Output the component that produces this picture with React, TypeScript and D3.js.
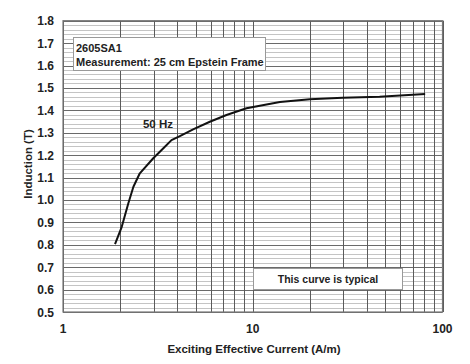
import React, { useRef, useEffect } from "react";
import * as d3 from "d3";

// B-H curve (A/m, T)
const current = [1.88, 2.04, 2.21, 2.35, 2.54, 2.99, 3.37, 3.73, 4.13, 4.85, 5.94, 7.27, 9.27, 13.9, 20, 29.8, 46.6, 81];
const induction = [0.803, 0.88, 0.985, 1.059, 1.119, 1.186, 1.23, 1.267, 1.285, 1.315, 1.349, 1.379, 1.409, 1.437, 1.449, 1.456, 1.461, 1.473];
const yTicks = [0.5, 0.6, 0.7, 0.8, 0.9, 1.0, 1.1, 1.2, 1.3, 1.4, 1.5, 1.6, 1.7, 1.8];
const xTicks = [1, 10, 100];

const W = 470;
const H = 364;
const FONT = "Arial, 'Liberation Sans', sans-serif";

function App() {
  const SVG = useRef<SVGSVGElement>(null);

  useEffect(() => {
    const svg = d3.select(SVG.current);
    svg.selectAll("*").remove();

    const x = d3.scaleLog().domain([1, 100]).range([63, 442.5]);
    const y = d3.scaleLinear().domain([0.5, 1.8]).range([312, 20.7]);

    const g = svg.append("g");

    // minor horizontal grid
    const minor = d3.range(0.52, 1.8, 0.02).filter(v => Math.abs(v * 10 - Math.round(v * 10)) > 0.01);
    g.selectAll("line.minor")
      .data(minor)
      .enter()
      .append("line")
      .attr("x1", x(1))
      .attr("x2", x(100))
      .attr("y1", d => Math.round(y(d)) + 0.5)
      .attr("y2", d => Math.round(y(d)) + 0.5)
      .attr("stroke", "#c4c4c4")
      .attr("stroke-width", 1);

    // major horizontal grid
    g.selectAll("line.major")
      .data(yTicks)
      .enter()
      .append("line")
      .attr("x1", x(1))
      .attr("x2", x(100))
      .attr("y1", d => Math.round(y(d)) + 0.5)
      .attr("y2", d => Math.round(y(d)) + 0.5)
      .attr("stroke", "#6a6a6a")
      .attr("stroke-width", 1);

    // vertical grid
    const vlines = d3.range(1, 10).flatMap(k => [k, k * 10]).concat([100]);
    g.selectAll("line.v")
      .data(vlines)
      .enter()
      .append("line")
      .attr("x1", d => Math.round(x(d)) + 0.5)
      .attr("x2", d => Math.round(x(d)) + 0.5)
      .attr("y1", y(1.8))
      .attr("y2", y(0.5))
      .attr("stroke", "#5a5a5a")
      .attr("stroke-width", 1);

    // frame
    g.append("rect")
      .attr("x", x(1))
      .attr("y", y(1.8))
      .attr("width", x(100) - x(1))
      .attr("height", y(0.5) - y(1.8))
      .attr("fill", "none")
      .attr("stroke", "#777")
      .attr("stroke-width", 1.2);

    // y tick labels
    g.selectAll("text.yt")
      .data(yTicks)
      .enter()
      .append("text")
      .attr("x", 54)
      .attr("y", d => y(d) + 4.5)
      .attr("text-anchor", "end")
      .attr("font-family", FONT)
      .attr("font-weight", "bold")
      .attr("font-size", 12)
      .attr("fill", "#222")
      .text(d => d.toFixed(1));

    // x tick labels
    g.selectAll("text.xt")
      .data(xTicks)
      .enter()
      .append("text")
      .attr("x", d => x(d))
      .attr("y", 333)
      .attr("text-anchor", "middle")
      .attr("font-family", FONT)
      .attr("font-weight", "bold")
      .attr("font-size", 12)
      .attr("fill", "#222")
      .text(d => String(d));

    // axis titles
    g.append("text")
      .attr("x", 254)
      .attr("y", 353)
      .attr("text-anchor", "middle")
      .attr("font-family", FONT)
      .attr("font-weight", "bold")
      .attr("font-size", 11.5)
      .attr("fill", "#222")
      .text("Exciting Effective Current (A/m)");

    g.append("text")
      .attr("transform", "translate(32,164) rotate(-90)")
      .attr("text-anchor", "middle")
      .attr("font-family", FONT)
      .attr("font-weight", "bold")
      .attr("font-size", 11.5)
      .attr("fill", "#222")
      .text("Induction (T)");

    // curve
    const pts: [number, number][] = current.map((c, i) => [c, induction[i]]);
    g.append("path")
      .datum(pts)
      .attr("fill", "none")
      .attr("stroke", "#111")
      .attr("stroke-width", 2)
      .attr("stroke-linejoin", "round")
      .attr("d", d3.line<[number, number]>().x(d => x(d[0])).y(d => y(d[1])));

    g.append("text")
      .attr("x", 158)
      .attr("y", 128)
      .attr("text-anchor", "middle")
      .attr("font-family", FONT)
      .attr("font-weight", "bold")
      .attr("font-size", 11.5)
      .attr("fill", "#222")
      .text("50 Hz");

    // info box
    g.append("rect")
      .attr("x", 73.5)
      .attr("y", 37.5)
      .attr("width", 192)
      .attr("height", 33)
      .attr("fill", "#fff")
      .attr("stroke", "#999");
    g.append("text")
      .attr("x", 76)
      .attr("y", 52)
      .attr("font-family", FONT)
      .attr("font-weight", "bold")
      .attr("font-size", 11)
      .attr("fill", "#222")
      .text("2605SA1");
    g.append("text")
      .attr("x", 76)
      .attr("y", 66)
      .attr("font-family", FONT)
      .attr("font-weight", "bold")
      .attr("font-size", 11)
      .attr("fill", "#222")
      .text("Measurement: 25 cm Epstein Frame");

    // typical box
    g.append("rect")
      .attr("x", 253.5)
      .attr("y", 268.5)
      .attr("width", 149)
      .attr("height", 21)
      .attr("fill", "#fff")
      .attr("stroke", "#999");
    g.append("text")
      .attr("x", 328)
      .attr("y", 283)
      .attr("text-anchor", "middle")
      .attr("font-family", FONT)
      .attr("font-weight", "bold")
      .attr("font-size", 10.5)
      .attr("fill", "#222")
      .text("This curve is typical");
  }, []);

  return (
    <svg
      ref={SVG}
      width={W}
      height={H}
      style={{ position: "absolute", left: 0, top: 0, background: "#fff" }}
    />
  );
}

export default App;
